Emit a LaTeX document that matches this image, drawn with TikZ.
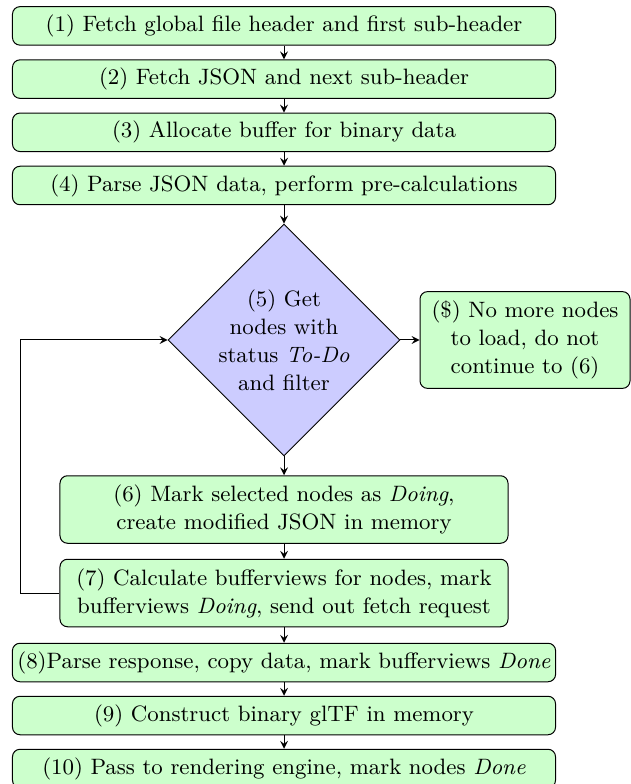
\documentclass[tikz,border=0pt]{standalone}
\usetikzlibrary{shapes.geometric}

\begin{document}
\begin{tikzpicture}[x=0.4pt, y=-0.4pt]
    \tikzset{stepbox/.style={draw, fill=green!20, rounded corners=3pt, align=center,
        inner sep=2pt, font=\fontsize{8.9pt}{11.2pt}\selectfont}}
    \tikzset{widebox/.style={stepbox, minimum width=217.2pt, minimum height=15.4pt}}
    \tikzset{narrowbox/.style={stepbox, minimum width=179.2pt, minimum height=27pt}}
    \tikzset{decision/.style={draw, fill=blue!20, diamond, align=center, inner sep=0pt,
        minimum width=89.6pt, minimum height=89.6pt, font=\fontsize{8.9pt}{11.2pt}\selectfont}}
    \tikzset{flow/.style={-stealth}}
    \useasboundingbox (0, 0) rectangle (631, 784);
    % steps before the loop
    \node[widebox] (fetch) at (284, 25.9) {(1) Fetch global file header and first sub-header};
    \node[widebox] (json) at (284, 79.1) {(2) Fetch JSON and next sub-header};
    \node[widebox] (alloc) at (284, 132.3) {(3) Allocate buffer for binary data};
    \node[widebox] (parse) at (284, 185.5) {(4) Parse JSON data, perform pre-calculations};
    % the loop
    \node[decision] (todo) at (284, 340) {(5) Get\\nodes with\\status \textit{To-Do}\\and filter};
    \node[stepbox, minimum width=84pt, minimum height=38.7pt] (nomore) at (525, 340)
        {(\$) No more nodes\\to load, do not\\continue to (6)};
    \node[narrowbox] (mark) at (284, 509.5) {(6) Mark selected nodes as \textit{Doing},\\create modified JSON in memory};
    \node[narrowbox] (calc) at (284, 593) {(7) Calculate bufferviews for nodes, mark\\bufferviews \textit{Doing}, send out fetch request};
    \coordinate (back) at (20, 593);
    % steps after the loop
    \node[widebox] (response) at (284, 662.5) {(8)Parse response, copy data, mark bufferviews \textit{Done}};
    \node[widebox] (build) at (284, 715.5) {(9) Construct binary glTF in memory};
    \node[widebox] (render) at (284, 768.5) {(10) Pass to rendering engine, mark nodes \textit{Done}};
    \draw[flow] (fetch) -- (json);
    \draw[flow] (json) -- (alloc);
    \draw[flow] (alloc) -- (parse);
    \draw[flow] (parse) -- (todo);
    \draw[flow] (todo) -- (nomore);
    \draw[flow] (todo) -- (mark);
    \draw[flow] (mark) -- (calc);
    \draw[flow] (calc.west) -- (back) |- (todo.west);
    \draw[flow] (calc) -- (response);
    \draw[flow] (response) -- (build);
    \draw[flow] (build) -- (render);
\end{tikzpicture}
\end{document}
